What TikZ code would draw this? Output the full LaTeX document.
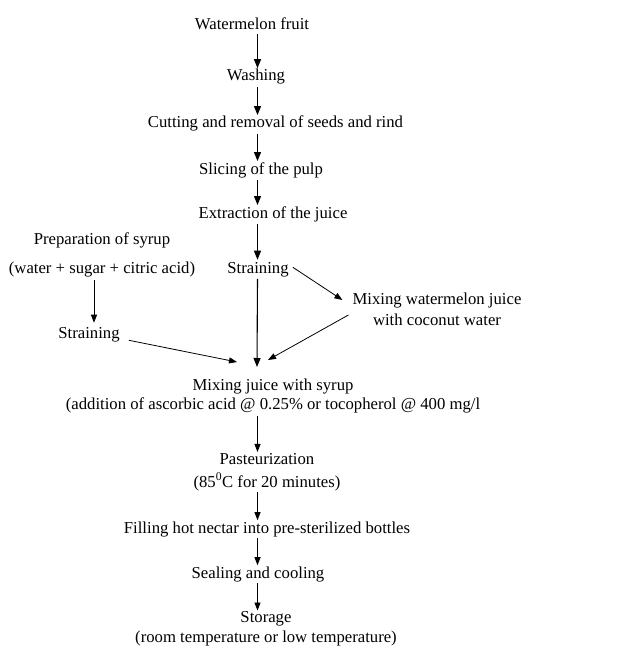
\documentclass[tikz,border=0pt]{standalone}
\usepackage{fontspec}
\setmainfont{Liberation Serif}
\usetikzlibrary{arrows.meta,calc}
\begin{document}
\begin{tikzpicture}[x=1pt,y=-1pt,
  lbl/.style={font=\fontsize{16.7}{19}\selectfont, inner sep=0pt, align=center},
  arr/.style={-{Triangle[length=9pt,width=7pt]}, line width=1.1pt},
  tarr/.style={-{Triangle[length=8pt,width=6pt]}, line width=0.8pt}]
\useasboundingbox (0,0) rectangle (644,650);
\coordinate (sp) at (257.5,0);
% main column
\node[lbl, anchor=base] (wf) at (252,30) {Watermelon fruit};
\node[lbl, anchor=base] (wa) at (256,81) {Washing};
\node[lbl, anchor=base] (cu) at (275.5,128) {Cutting and removal of seeds and rind};
\node[lbl, anchor=base] (sl) at (261,174) {Slicing of the pulp};
\node[lbl, anchor=base] (ex) at (273,218) {Extraction of the juice};
\node[lbl, anchor=base] (st) at (258,273) {Straining};
\node[lbl] (sy) at (102,255) {Preparation of syrup\\[10pt](water + sugar + citric acid)};
\node[lbl, anchor=base] (sl2) at (89,338) {Straining};
\node[lbl] (mc) at (437,309) {Mixing watermelon juice\\[2pt]with coconut water};
\node[lbl] (mj) at (273,396) {Mixing juice with syrup\\(addition of ascorbic acid @ 0.25\% or tocopherol @ 400 mg/l};
\node[lbl] (pa) at (267,472) {Pasteurization\\[4pt](85\textsuperscript{0}C for 20 minutes)};
\node[lbl, anchor=base] (fi) at (267,533) {Filling hot nectar into pre-sterilized bottles};
\node[lbl, anchor=base] (se) at (258,578) {Sealing and cooling};
\node[lbl] (sg) at (266,629) {Storage\\[1pt](room temperature or low temperature)};
% free ends
\coordinate (mjL) at (237,362);
\coordinate (mjC) at (257,367);
\coordinate (mjR) at (268,360);
% arrows
\draw[arr] ($(wf.south -| sp)+(0,4)$) -- ($(wa.north -| sp)+(0,-1)$);
\draw[arr] ($(wa.south -| sp)+(0,2)$) -- ($(cu.north -| sp)+(0,-1)$);
\draw[arr] ($(cu.south -| sp)+(0,2)$) -- ($(sl.north -| sp)+(0,-1)$);
\draw[arr] ($(sl.south -| sp)+(0,2)$) -- ($(ex.north -| sp)+(0,-1)$);
\draw[arr] ($(ex.south -| sp)+(0,2)$) -- ($(st.north -| sp)+(0,-2)$);
\draw[arr] ($(st.south -| sp)+(0,2)$) -- (mjC);
\draw[tarr] ($(st.east)+(4,-2)$) -- ($(mc.west)+(-10,-9)$);
\draw[tarr] ($(mc.west)+(-4,6)$) -- (mjR);
\draw[tarr] ($(sy.south)+(-8,3)$) -- ($(sl2.north)+(5,-4)$);
\draw[tarr] ($(sl2.east)+(9,6)$) -- (mjL);
\draw[tarr] ($(mj.south -| sp)+(0,3)$) -- ($(pa.north -| sp)+(0,-1)$);
\draw[tarr] ($(pa.south -| sp)+(0,1)$) -- ($(fi.north -| sp)+(0,-1)$);
\draw[tarr] ($(fi.south -| sp)+(0,1)$) -- ($(se.north -| sp)+(0,-1)$);
\draw[tarr] ($(se.south -| sp)+(0,1)$) -- ($(sg.north -| sp)+(0,-1)$);
\end{tikzpicture}
\end{document}
